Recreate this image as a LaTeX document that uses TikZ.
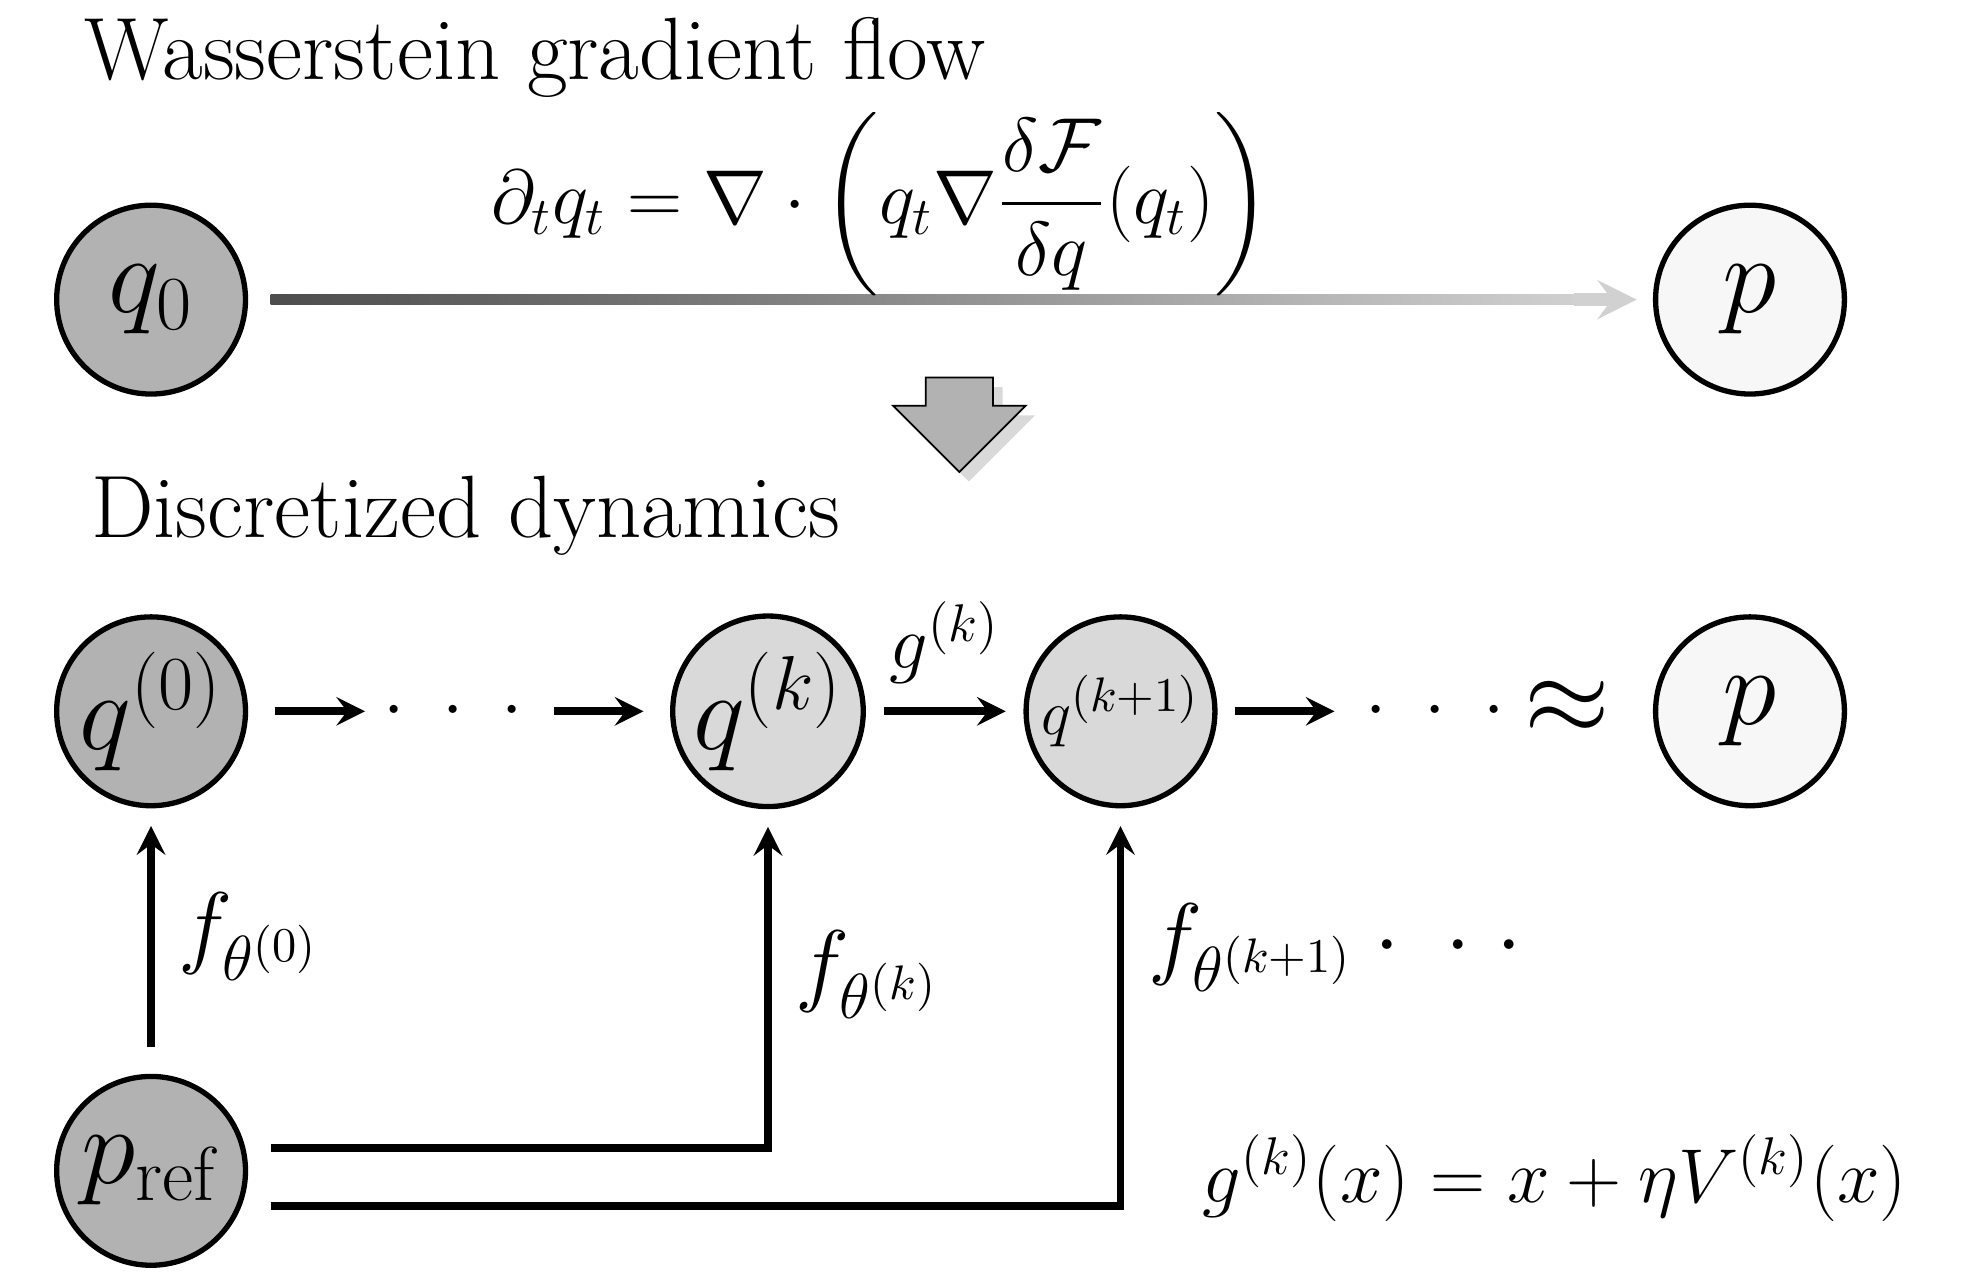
\documentclass[tikz,border=0pt]{standalone}
\usepackage{amsmath}
\usetikzlibrary{positioning,shapes.arrows,shadows}
\tikzset{dist/.style={circle,draw,line width=1.2pt,minimum size=1.5cm,inner sep=0pt,font=\fontsize{24}{26}\selectfont},
  arr/.style={->,>=stealth,line width=1.8pt},
  flab/.style={right=2pt,font=\fontsize{22}{24}\selectfont}}
\begin{document}
\begin{tikzpicture}[font=\fontsize{17}{20}\selectfont]
\useasboundingbox (0,0) rectangle (15.6,10.14);

% continuous flow
\node[anchor=west,font=\fontsize{20}{24}\selectfont] (title1) at (0.55,9.68) {Wasserstein gradient flow};
\node[dist,fill=black!30] (q0) at (1.2,7.76) {$q_0$};
\node[dist,fill=black!3] (p1) at (13.9,7.76) {$p$};
\shade[left color=black!70,right color=black!18] (2.15,7.72) rectangle (12.6,7.80);
\draw[->,>=stealth,black!18,line width=2.8pt] (12.5,7.76) -- (13.0,7.76);
\node (flow) at (7.0,8.52) {$\partial_t q_t = \nabla\cdot\biggl(q_t\nabla\dfrac{\delta\mathcal{F}}{\delta q}(q_t)\biggr)$};

\node[single arrow,draw,fill=black!30,shape border rotate=270,minimum height=0.75cm,
  minimum width=1.05cm,single arrow head extend=0.12cm,drop shadow={opacity=0.3}] (down) at (7.62,6.9) {};

% discretized
\node[anchor=west,font=\fontsize{20}{24}\selectfont] (title2) at (0.6,6.04) {Discretized dynamics};
\node[dist,fill=black!30] (qz) at (1.2,4.49) {$q^{(0)}$};
\node[dist,fill=black!15] (qk) at (6.1,4.49) {$q^{(k)}$};
\node[dist,fill=black!15,font=\fontsize{15}{17}\selectfont] (qk1) at (8.9,4.49) {$q^{(k+1)}$};
\node[dist,fill=black!3] (p2) at (13.9,4.49) {$p$};
\node[dist,fill=black!30] (pref) at (1.2,0.84) {$p_{\mathrm{ref}}$};

\node (d1) at (3.6,4.49) {$\cdot\;\cdot\;\cdot$};
\node (d2) at (11.4,4.49) {$\cdot\;\cdot\;\cdot$};
\node[font=\fontsize{30}{32}\selectfont] (approx) at (12.45,4.52) {$\approx$};
\draw[arr] ([xshift=6pt]qz.east) -- (2.9,4.49);
\draw[arr] (4.4,4.49) -- ([xshift=-6pt]qk.west);
\draw[arr] ([xshift=4pt]qk.east) -- node[above=2pt] {$g^{(k)}$} ([xshift=-4pt]qk1.west);
\draw[arr] ([xshift=4pt]qk1.east) -- (10.6,4.49);

\draw[arr] ([yshift=6pt]pref.north) -- node[flab] {$f_{\theta^{(0)}}$} ([yshift=-4pt]qz.south);
\draw[arr] (2.15,1.02) -| ([yshift=-4pt]qk.south) node[flab,pos=0.77] {$f_{\theta^{(k)}}$};
\draw[arr] (2.15,0.56) -| ([yshift=-4pt]qk1.south) node[flab,pos=0.84] {$f_{\theta^{(k+1)}}\cdot\;\cdot\;\cdot$};
\node (gdef) at (12.35,0.78) {$g^{(k)}(x) = x + \eta V^{(k)}(x)$};
\end{tikzpicture}
\end{document}
